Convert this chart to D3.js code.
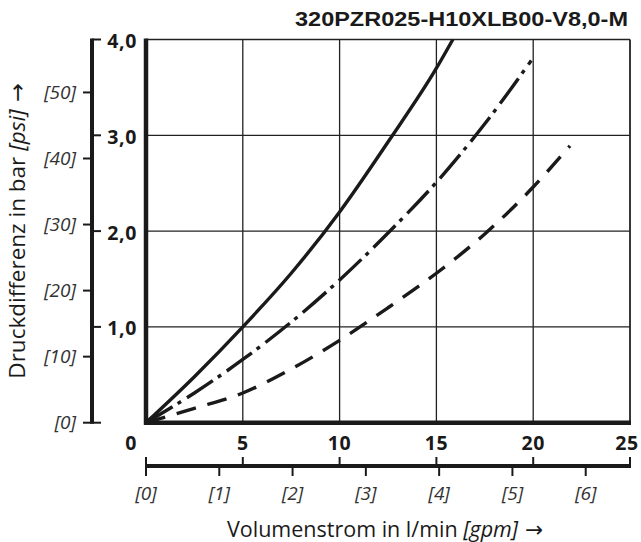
<!DOCTYPE html>
<html>
<head>
<meta charset="utf-8">
<script src="https://cdn.jsdelivr.net/npm/d3@7"></script>
<style>
  body { margin: 0; background: #fff; }
  svg { display: block; }
  text { font-family: "Open Sans", "Noto Sans", sans-serif; fill: #1a1a1a; }
  .arrow { font-family: "DejaVu Sans", sans-serif; }
</style>
</head>
<body>
<div id="chart"></div>
<script>
// pressure drop curves
var solidFlow = [0, 2.5, 5, 7.5, 10, 12.5, 15, 15.85];
var solidDp = [0, 0.48, 1.0, 1.56, 2.2, 2.93, 3.7, 4.0];
var dashDotFlow = [0, 2.5, 5, 7.5, 10, 12.5, 15, 17.5, 19.9];
var dashDotDp = [0, 0.31, 0.66, 1.05, 1.49, 1.98, 2.51, 3.12, 3.78];
var dashedFlow = [0, 2.5, 5, 7.5, 10, 12.5, 15, 17.5, 20, 21.9];
var dashedDp = [0, 0.15, 0.31, 0.56, 0.86, 1.2, 1.56, 1.97, 2.46, 2.89];

// ticks
var barTicks = [0, 1, 2, 3, 4];
var barLabels = ["", "1,0", "2,0", "3,0", "4,0"];
var psiTicks = [0, 10, 20, 30, 40, 50];
var flowTicks = [0, 5, 10, 15, 20, 25];
var gpmTicks = [0, 1, 2, 3, 4, 5, 6];

var title = "320PZR025-H10XLB00-V8,0-M";
var PSI_PER_BAR = 14.5038;
var LPM_PER_GPM = 3.78541;

var W = 641, H = 542;
var svg = d3.select("#chart").append("svg")
    .attr("width", W)
    .attr("height", H);

var x = d3.scaleLinear().domain([0, 25]).range([146, 630]);
var y = d3.scaleLinear().domain([0, 4]).range([422.7, 39.5]);

var axisX = 92;   // second vertical axis (bar / psi)
var axisY = 466;  // second horizontal axis (l/min / gpm)

// grid
svg.selectAll(".vgrid")
    .data(flowTicks.filter(function (d) { return d > 0 && d < 25; }))
    .enter().append("line")
    .attr("x1", function (d) { return x(d); })
    .attr("x2", function (d) { return x(d); })
    .attr("y1", y(4)).attr("y2", y(0))
    .attr("stroke", "#222").attr("stroke-width", 1.3);

svg.selectAll(".hgrid")
    .data(barTicks.filter(function (d) { return d > 0 && d < 4; }))
    .enter().append("line")
    .attr("x1", x(0)).attr("x2", x(25))
    .attr("y1", function (d) { return y(d); })
    .attr("y2", function (d) { return y(d); })
    .attr("stroke", "#222").attr("stroke-width", 1.3);

// frame: thin top / right, thick left / bottom
svg.append("line").attr("x1", x(0)).attr("x2", x(25)).attr("y1", y(4)).attr("y2", y(4))
    .attr("stroke", "#222").attr("stroke-width", 1.5);
svg.append("line").attr("x1", x(25)).attr("x2", x(25)).attr("y1", y(4)).attr("y2", y(0))
    .attr("stroke", "#222").attr("stroke-width", 1.8);

// curves
var line = d3.line()
    .x(function (d) { return x(d[0]); })
    .y(function (d) { return y(d[1]); })
    .curve(d3.curveMonotoneX);

var curves = [
    { flow: solidFlow, dp: solidDp, dash: null },
    { flow: dashDotFlow, dp: dashDotDp, dash: "31,6,4,7" },
    { flow: dashedFlow, dp: dashedDp, dash: "20,12" }
];

curves.forEach(function (c) {
    var pts = d3.zip(c.flow, c.dp);
    svg.append("path")
        .attr("d", line(pts))
        .attr("fill", "none")
        .attr("stroke", "#1a1a1a")
        .attr("stroke-width", 3.4)
        .attr("stroke-dasharray", c.dash);
});

svg.append("line").attr("x1", x(0)).attr("x2", x(0)).attr("y1", y(4) - 1).attr("y2", y(0) + 2)
    .attr("stroke", "#1a1a1a").attr("stroke-width", 4.5);
svg.append("line").attr("x1", x(0) - 2).attr("x2", x(25) + 1).attr("y1", y(0)).attr("y2", y(0))
    .attr("stroke", "#1a1a1a").attr("stroke-width", 4.5);

// left axis (bar right side, psi left side)
svg.append("line").attr("x1", axisX).attr("x2", axisX).attr("y1", y(4) - 1).attr("y2", y(0) + 1)
    .attr("stroke", "#1a1a1a").attr("stroke-width", 4);

svg.selectAll(".bartick").data(barTicks).enter().append("line")
    .attr("x1", axisX).attr("x2", axisX + 9)
    .attr("y1", function (d) { return y(d); })
    .attr("y2", function (d) { return y(d); })
    .attr("stroke", "#1a1a1a").attr("stroke-width", 2);

svg.selectAll(".barlabel").data(barTicks).enter().append("text")
    .attr("x", 137)
    .attr("y", function (d) { return y(d) + 8.5; })
    .attr("text-anchor", "end")
    .style("font-size", "19.5px")
    .style("font-weight", "bold")
    .style("letter-spacing", "0.6px")
    .text(function (d, i) { return barLabels[i]; });

svg.selectAll(".psitick").data(psiTicks).enter().append("line")
    .attr("x1", axisX - 9).attr("x2", axisX)
    .attr("y1", function (d) { return y(d / PSI_PER_BAR); })
    .attr("y2", function (d) { return y(d / PSI_PER_BAR); })
    .attr("stroke", "#1a1a1a").attr("stroke-width", 2);

svg.selectAll(".psilabel").data(psiTicks).enter().append("text")
    .attr("x", 76)
    .attr("y", function (d) { return y(d / PSI_PER_BAR) + 6.5; })
    .attr("text-anchor", "end")
    .style("font-size", "19px")
    .style("font-style", "italic")
    .style("fill", "#333")
    .text(function (d) { return "[" + d + "]"; });

// bottom axis (l/min up, gpm down)
svg.append("line").attr("x1", x(0) - 1).attr("x2", x(25) + 1).attr("y1", axisY).attr("y2", axisY)
    .attr("stroke", "#1a1a1a").attr("stroke-width", 4);

svg.selectAll(".flowtick").data(flowTicks).enter().append("line")
    .attr("x1", function (d) { return x(d); })
    .attr("x2", function (d) { return x(d); })
    .attr("y1", axisY - 9).attr("y2", axisY)
    .attr("stroke", "#1a1a1a").attr("stroke-width", 2);

svg.selectAll(".flowlabel").data(flowTicks).enter().append("text")
    .attr("x", function (d) { return d === 0 ? 131 : (d === 25 ? x(d) - 3 : x(d)); })
    .attr("y", 450)
    .attr("text-anchor", "middle")
    .style("font-size", "19.5px")
    .style("font-weight", "bold")
    .style("letter-spacing", "0.6px")
    .text(function (d) { return d; });

svg.selectAll(".gpmtick").data(gpmTicks).enter().append("line")
    .attr("x1", function (d) { return x(d * LPM_PER_GPM); })
    .attr("x2", function (d) { return x(d * LPM_PER_GPM); })
    .attr("y1", axisY).attr("y2", axisY + 10)
    .attr("stroke", "#1a1a1a").attr("stroke-width", 2);

svg.selectAll(".gpmlabel").data(gpmTicks).enter().append("text")
    .attr("x", function (d) { return x(d * LPM_PER_GPM); })
    .attr("y", 500)
    .attr("text-anchor", "middle")
    .style("font-size", "19px")
    .style("font-style", "italic")
    .style("fill", "#333")
    .text(function (d) { return "[" + d + "]"; });

// axis titles
var xt = svg.append("text")
    .attr("x", 385).attr("y", 537)
    .attr("text-anchor", "middle")
    .style("font-size", "21.5px");
xt.append("tspan").text("Volumenstrom in l/min ");
xt.append("tspan").style("font-style", "italic").text("[gpm]");
xt.append("tspan").attr("class", "arrow").text(" \u2192");

var yt = svg.append("text")
    .attr("transform", "translate(25,231) rotate(-90)")
    .attr("text-anchor", "middle")
    .style("font-size", "22.5px");
yt.append("tspan").text("Druckdifferenz in bar ");
yt.append("tspan").style("font-style", "italic").text("[psi]");
yt.append("tspan").attr("class", "arrow").text(" \u2192");

// title
svg.append("text")
    .attr("x", 628).attr("y", 26)
    .attr("text-anchor", "end")
    .attr("textLength", 333)
    .attr("lengthAdjust", "spacingAndGlyphs")
    .style("font-family", "'Liberation Sans', Arial, sans-serif")
    .style("font-size", "21px")
    .style("font-weight", "bold")
    .text(title);
</script>
</body>
</html>
